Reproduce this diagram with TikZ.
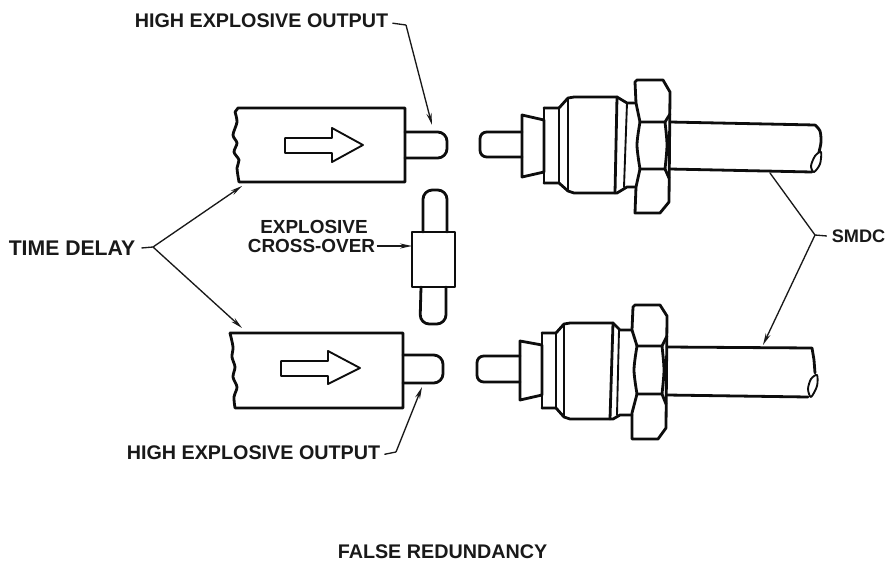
\documentclass[tikz,border=0pt]{standalone}
\usepackage{fontspec}
\setmainfont{Liberation Sans}
\usetikzlibrary{arrows.meta}
\tikzset{
  part/.style={draw=black!95,line width=2.1pt,line join=round,line cap=round},
  fine/.style={draw=black!95,line width=1.4pt,line join=round,line cap=round},
  leader/.style={draw=black!90,line width=1pt},
  tip/.style={leader,-{Stealth[length=9pt,width=3.8pt]}},
  lbl/.style={inner sep=0pt,font=\fontsize{#1}{16}\selectfont\bfseries,text=black!90},
  lbl/.default=14.8,
}
\begin{document}
\begin{tikzpicture}[x=0.75pt,y=-0.75pt]
\useasboundingbox[fill=white] (0,0) rectangle (890,565);

% --- time delay boxes
\draw[part] (239,182) -- (405,182) -- (405,108) -- (238,108) -- (235,112)
  plot[smooth] coordinates {(235,112) (237,122) (233,135) (237,143) (234,152) (239,160) (237,168) (239,182)};
\draw[part,rounded corners=7pt] (405,132) -- (447,132) -- (447,158) -- (405,158);
\draw[fine] (285,138) -- (332,138) -- (332,128) -- (363,145) -- (332,162) -- (332,153) -- (285,153) -- cycle;

\draw[part] (235,408) -- (403,408) -- (403,333) -- (230,333)
  plot[smooth] coordinates {(230,333) (233,347) (232,357) (235,367) (233,377) (237,387) (234,397) (235,408)};
\draw[part,rounded corners=7pt] (403,355) -- (443,355) -- (443,383) -- (403,383);
\draw[fine] (281,361) -- (328,361) -- (328,351) -- (360,368) -- (328,384) -- (328,376) -- (281,376) -- cycle;

% --- cross-over
\draw[part,rounded corners=7pt] (423,232) -- (423,190) -- (447,190) -- (447,232);
\draw[part] (412,232) rectangle (455,287);
\draw[part,rounded corners=7pt] (421,287) -- (420,324) -- (446,324) -- (446,287);

% --- upper coupling
\draw[part,rounded corners=5pt] (522,132) -- (480,132) -- (480,157) -- (522,157);
\draw[part] (522,115) -- (544,120) -- (544,172) -- (522,177) -- cycle;
\draw[part] (544,108) -- (559,108) -- (568,98) -- (574,97) -- (617,97) -- (627,103) -- (636,103);
\draw[part] (544,183) -- (559,183) -- (568,191) -- (574,193) -- (617,193) -- (627,187) -- (636,187);
\draw[part] (544,108) -- (544,183);
\draw[part] (559,108) -- (559,183);
\draw[fine] (568,98) -- (568,191);
\draw[part] (617,97) -- (615,193);
\draw[fine] (627,103) -- (624,187);
\draw[part] (640,122) -- (636,103) -- (635,82) -- (637,80) -- (663,80) -- (670,92) -- (669,202) -- (660,213) -- (635,213) -- (636,187) -- (640,169);
\draw[part] plot[smooth] coordinates {(640,122) (637,145) (640,169)};
\draw[part] (640,122) -- (665,122) -- (670,114);
\draw[part] (640,169) -- (665,169) -- (669,178);
\draw[part] plot[smooth] coordinates {(665,122) (667,145) (665,169)};
\draw[part] (670,122) -- (815,125) plot[smooth] coordinates {(815,125) (820,131) (821,142) (819,152)};
\draw[part] (670,169) -- (812,172);
\draw[fine] plot[smooth cycle] coordinates {(821,152) (820,164) (814,172) (811,166) (815,156)};

% --- lower coupling
\draw[part,rounded corners=5pt] (520,356) -- (477,356) -- (477,382) -- (520,382);
\draw[part] (520,341) -- (542,345) -- (542,395) -- (520,400) -- cycle;
\draw[part] (542,333) -- (556,333) -- (564,324) -- (570,323) -- (613,323) -- (620,330) -- (632,330);
\draw[part] (542,408) -- (556,408) -- (564,417) -- (570,419) -- (613,419) -- (620,415) -- (632,415);
\draw[part] (542,333) -- (542,408);
\draw[fine] (556,333) -- (556,408);
\draw[fine] (564,324) -- (564,417);
\draw[part] (613,323) -- (610,419);
\draw[fine] (619,330) -- (617,415);
\draw[part] (637,346) -- (632,330) -- (633,307) -- (635,305) -- (660,305) -- (667,316) -- (666,428) -- (658,439) -- (632,439) -- (632,413) -- (637,394);
\draw[part] plot[smooth] coordinates {(637,346) (634,370) (637,394)};
\draw[part] (637,346) -- (662,346) -- (667,336);
\draw[part] (637,394) -- (662,394) -- (666,404);
\draw[part] plot[smooth] coordinates {(662,346) (664,370) (662,394)};
\draw[part] (667,347) -- (812,348) -- (814,360) -- (815,373);
\draw[part] (667,395) -- (808,397);
\draw[fine] plot[smooth cycle] coordinates {(817,375) (817,386) (811,397) (808,389) (811,379)};

% --- labels
\node[lbl] (heTop) at (261.5,20.5) {HIGH EXPLOSIVE OUTPUT};
\node[lbl] (heBot) at (253.5,453) {HIGH EXPLOSIVE OUTPUT};
\node[lbl=15.9] (td) at (72,248) {TIME DELAY};
\node[lbl=14.2] (ex) at (314,227) {EXPLOSIVE};
\node[lbl=14.2] (cr) at (311.5,246) {CROSS-OVER};
\node[lbl=13.6] (smdc) at (858.5,236) {SMDC};
\node[lbl] (title) at (442.5,552) {FALSE REDUNDANCY};

% --- connector ends
\coordinate (topOut) at (432,125);
\coordinate (botOut) at (422,387);
\coordinate (boxA) at (242,186);
\coordinate (boxB) at (242,328);
\coordinate (crossBody) at (412,246);
\coordinate (cabA) at (770,173);
\coordinate (cabB) at (763,345);
\coordinate (kTop) at (406,25);
\coordinate (kBot) at (396,452);
\coordinate (kTd) at (153,247);
\coordinate (kS) at (815,235);

\draw[leader] ([xshift=3pt,yshift=-2pt]heTop.east) -- (kTop);
\draw[tip] (kTop) -- (topOut);
\draw[leader] ([xshift=3pt,yshift=-1pt]heBot.east) -- (kBot);
\draw[tip] (kBot) -- (botOut);
\draw[leader] ([xshift=4.5pt]td.east) -- (kTd);
\draw[tip] (kTd) -- (boxA);
\draw[tip] (kTd) -- (boxB);
\draw[tip] ([xshift=1pt]cr.east) -- (crossBody);
\draw[leader] ([xshift=-3.5pt]smdc.west) -- (kS);
\draw[leader] (kS) -- (cabA);
\draw[tip] (kS) -- (cabB);
\end{tikzpicture}
\end{document}
